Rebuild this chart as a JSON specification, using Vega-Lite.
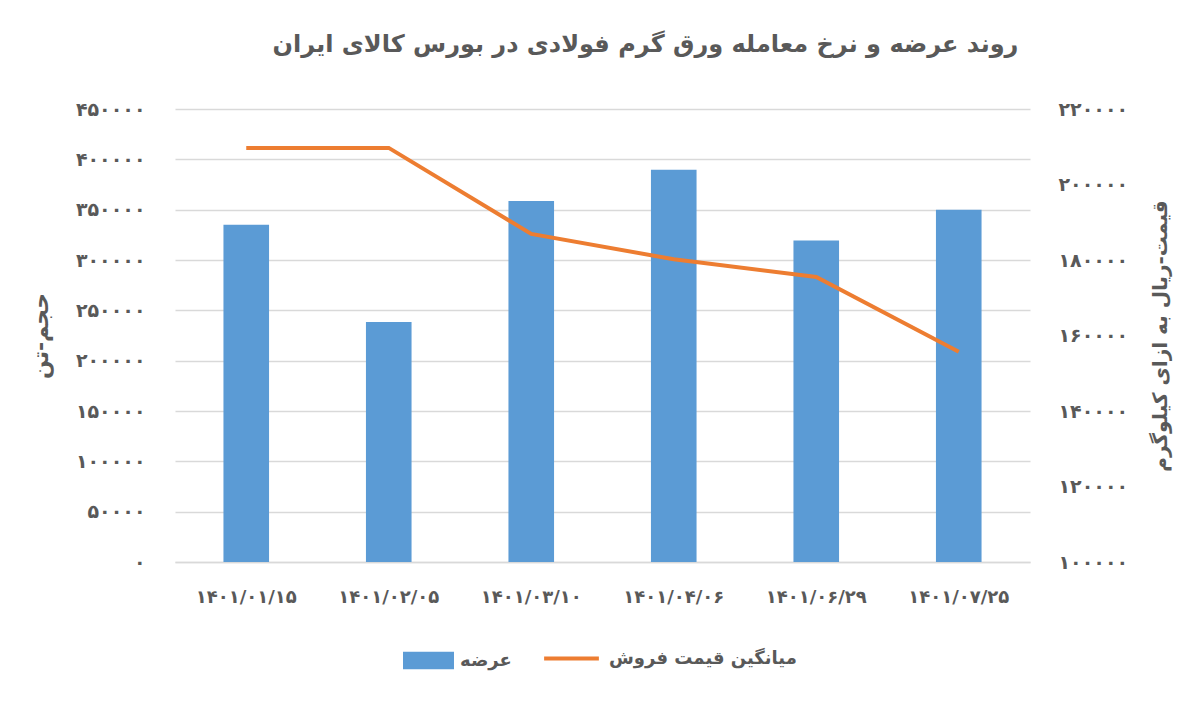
{
  "$schema": "https://vega.github.io/schema/vega-lite/v6.json",
  "description": "روند عرضه و نرخ معامله ورق گرم فولادی",
  "background": "white",
  "autosize": {"type": "none"},
  "width": 855,
  "height": 453,
  "padding": {"left": 175, "top": 109, "right": 170, "bottom": 141},
  "title": {
    "text": "روند عرضه و نرخ معامله ورق گرم فولادی در بورس کالای ایران",
    "fontSize": 24,
    "fontWeight": "bold",
    "color": "#595959",
    "font": "DejaVu Sans",
    "anchor": "middle",
    "dx": 43,
    "offset": 43
  },
  "data": {
    "values": [
      {"date": "۱۴۰۱/۰۱/۱۵", "supply": 335000, "price": 209700, "s": "عرضه", "p": "میانگین قیمت فروش"},
      {"date": "۱۴۰۱/۰۲/۰۵", "supply": 238300, "price": 209700, "s": "عرضه", "p": "میانگین قیمت فروش"},
      {"date": "۱۴۰۱/۰۳/۱۰", "supply": 358500, "price": 186900, "s": "عرضه", "p": "میانگین قیمت فروش"},
      {"date": "۱۴۰۱/۰۴/۰۶", "supply": 389700, "price": 180200, "s": "عرضه", "p": "میانگین قیمت فروش"},
      {"date": "۱۴۰۱/۰۶/۲۹", "supply": 319400, "price": 175500, "s": "عرضه", "p": "میانگین قیمت فروش"},
      {"date": "۱۴۰۱/۰۷/۲۵", "supply": 349900, "price": 155700, "s": "عرضه", "p": "میانگین قیمت فروش"}
    ]
  },
  "encoding": {
    "x": {
      "field": "date",
      "type": "nominal",
      "sort": null,
      "scale": {"paddingInner": 0.68, "paddingOuter": 0.34},
      "axis": {
        "title": null,
        "labelAngle": 0,
        "labelFontSize": 18,
        "labelFontWeight": "bold",
        "labelColor": "#595959",
        "labelPadding": 26,
        "ticks": false,
        "domainColor": "#d9d9d9",
        "domainWidth": 1.5
      }
    }
  },
  "layer": [
    {
      "mark": {"type": "bar", "color": "#5b9bd5"},
      "encoding": {
        "y": {
          "field": "supply",
          "type": "quantitative",
          "scale": {"domain": [0, 450000]},
          "axis": {
            "title": "حجم-تن",
            "titleFontSize": 22,
            "titleFontWeight": "bold",
            "titleColor": "#595959",
            "titleX": -135,
            "titleAngle": -90,
            "titleBaseline": "middle",
            "values": [0, 50000, 100000, 150000, 200000, 250000, 300000, 350000, 400000, 450000],
            "format": "d",
            "labelExpr": "replace(replace(replace(replace(replace(replace(replace(replace(replace(replace(datum.label,/0/g,'۰'),/1/g,'۱'),/2/g,'۲'),/3/g,'۳'),/4/g,'۴'),/5/g,'۵'),/6/g,'۶'),/7/g,'۷'),/8/g,'۸'),/9/g,'۹')",
            "labelFontSize": 19,
            "labelFontWeight": "bold",
            "labelColor": "#595959",
            "labelPadding": 30,
            "ticks": false,
            "domain": false,
            "grid": true,
            "gridColor": "#d9d9d9",
            "gridWidth": 1.5
          }
        },
        "color": {
          "field": "s",
          "type": "nominal",
          "scale": {"range": ["#5b9bd5"]},
          "legend": {
            "title": null,
            "orient": "none",
            "legendX": 228,
            "legendY": 526,
            "padding": 0,
            "symbolType": "M-1,-0.34H1V0.34H-1Z",
            "symbolSize": 2600,
            "symbolStrokeWidth": 0,
            "labelFontSize": 18,
            "labelFontWeight": "bold",
            "labelColor": "#595959",
            "labelOffset": 6,
            "labelLimit": 0
          }
        }
      }
    },
    {
      "mark": {"type": "line", "color": "#ed7d31", "strokeWidth": 4},
      "encoding": {
        "y": {
          "field": "price",
          "type": "quantitative",
          "scale": {"domain": [100000, 220000]},
          "axis": {
            "orient": "right",
            "title": "قیمت-ریال به ازای کیلوگرم",
            "titleFontSize": 20,
            "titleFontWeight": "bold",
            "titleColor": "#595959",
            "titleX": 130,
            "titleAngle": -90,
            "titleBaseline": "middle",
            "values": [100000, 120000, 140000, 160000, 180000, 200000, 220000],
            "format": "d",
            "labelExpr": "replace(replace(replace(replace(replace(replace(replace(replace(replace(replace(datum.label,/0/g,'۰'),/1/g,'۱'),/2/g,'۲'),/3/g,'۳'),/4/g,'۴'),/5/g,'۵'),/6/g,'۶'),/7/g,'۷'),/8/g,'۸'),/9/g,'۹')",
            "labelFontSize": 19,
            "labelFontWeight": "bold",
            "labelColor": "#595959",
            "labelPadding": 28,
            "ticks": false,
            "domain": false,
            "grid": false
          }
        },
        "color": {
          "field": "p",
          "type": "nominal",
          "scale": {"range": ["#ed7d31"]},
          "legend": {
            "title": null,
            "orient": "none",
            "legendX": 367,
            "legendY": 520,
            "padding": 0,
            "symbolType": "stroke",
            "symbolStrokeWidth": 4,
            "symbolSize": 3000,
            "labelFontSize": 18,
            "labelFontWeight": "bold",
            "labelColor": "#595959",
            "labelOffset": 8,
            "labelLimit": 0
          }
        }
      }
    }
  ],
  "resolve": {"scale": {"y": "independent", "color": "independent"}},
  "config": {
    "font": "DejaVu Sans",
    "view": {"stroke": null}
  }
}
